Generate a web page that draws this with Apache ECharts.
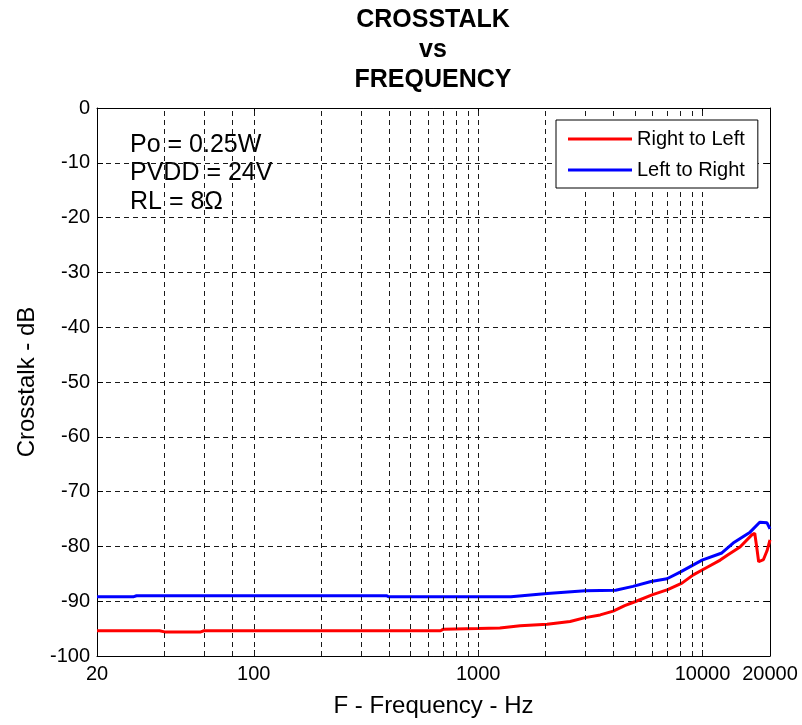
<!DOCTYPE html>
<html>
<head>
<meta charset="utf-8">
<script src="https://cdn.jsdelivr.net/npm/echarts@6/dist/echarts.min.js"></script>
<style>
  html, body { margin: 0; padding: 0; background: #fff; }
  #chart { width: 802px; height: 725px; }
</style>
</head>
<body>
<div id="chart"></div>
<script>
// Crosstalk measurements, [frequency Hz, dB]
const rightToLeft = [
  [20, -95.4], [38, -95.4], [40, -95.6], [58, -95.6], [60, -95.4], [680, -95.4],
  [700, -95.1], [1000, -95.0], [1250, -94.9], [1540, -94.5], [2030, -94.2],
  [2570, -93.7], [3000, -93.0], [3500, -92.5], [4000, -91.8], [4500, -90.8],
  [5000, -90.1], [6000, -88.8], [7000, -87.9], [8100, -86.7], [9100, -85.2],
  [10500, -83.8], [12000, -82.5], [12900, -81.6], [14700, -80.1], [16600, -77.9],
  [17100, -77.6], [17500, -80.5], [17800, -82.8], [18700, -82.4], [19400, -80.8],
  [20000, -78.8]
];
const leftToRight = [
  [20, -89.2], [29, -89.2], [30, -89.0], [390, -89.0], [400, -89.2], [1400, -89.2],
  [1420, -89.0], [2030, -88.6], [3000, -88.1], [4100, -88.0], [4900, -87.3],
  [5900, -86.4], [6950, -85.9], [7950, -84.7], [9960, -82.5], [12200, -81.2],
  [13700, -79.4], [16300, -77.4], [18000, -75.6], [19400, -75.7], [20000, -76.8]
];
const seriesNames = ['Right to Left', 'Left to Right'];
// vertical dashed grid positions (Hz)
const freqGrid = [40, 60, 80, 100, 200, 300, 400, 500, 600, 700, 800, 900, 1000,
  2000, 3000, 4000, 5000, 6000, 7000, 8000, 9000, 10000];
const conditions = ['Po = 0.25W', 'PVDD = 24V', 'RL = 8\u03A9'];

const FONT = '"Liberation Sans", Arial, Helvetica, sans-serif';
const gridDash = { color: '#1a1a1a', width: 1, type: [5, 4] };

const chart = echarts.init(document.getElementById('chart'), null, { renderer: 'canvas' });

const option = {
  animation: false,
  backgroundColor: '#fff',
  textStyle: { fontFamily: FONT },
  title: {
    text: 'CROSSTALK\nvs\nFREQUENCY',
    left: 433, top: 5, textAlign: 'center', padding: 0,
    textStyle: { fontFamily: FONT, fontSize: 25, fontWeight: 'bold', color: '#000', lineHeight: 30 }
  },
  grid: { left: 97, right: 32, top: 108, bottom: 69, containLabel: false },
  legend: {
    data: seriesNames,
    orient: 'vertical',
    left: 556, top: 120,
    padding: [8, 13, 7, 12],
    itemGap: 9,
    itemWidth: 64, itemHeight: 3, itemTextGap: 7,
    icon: 'rect',
    backgroundColor: '#fff',
    borderColor: '#000', borderWidth: 1, borderRadius: 0,
    textStyle: { fontFamily: FONT, fontSize: 20, color: '#000', lineHeight: 22 },
    z: 20
  },
  xAxis: [{
    type: 'log', logBase: 10, min: 20, max: 20000,
    name: 'F - Frequency - Hz', nameLocation: 'middle', nameGap: 38,
    nameTextStyle: { fontFamily: FONT, fontSize: 24, color: '#000' },
    axisLine: { onZero: false, lineStyle: { color: '#000', width: 1 } },
    axisTick: { inside: true, length: 6, lineStyle: { color: '#000' } },
    axisLabel: { fontFamily: FONT, fontSize: 20, color: '#000', margin: 8, hideOverlap: false,
      showMinLabel: true, showMaxLabel: true, formatter: v => String(Math.round(v)) },
    splitLine: { show: false }
  }, {
    type: 'log', logBase: 10, min: 20, max: 20000, position: 'top',
    axisLine: { onZero: false, lineStyle: { color: '#000', width: 1 } },
    axisTick: { inside: true, length: 6, lineStyle: { color: '#000' } },
    axisLabel: { show: false },
    splitLine: { show: false }
  }],
  yAxis: [{
    type: 'value', min: -100, max: 0, interval: 10,
    name: 'Crosstalk - dB', nameLocation: 'middle', nameGap: 58, nameRotate: 90,
    nameTextStyle: { fontFamily: FONT, fontSize: 24, color: '#000' },
    axisLine: { show: true, onZero: false, lineStyle: { color: '#000', width: 1 } },
    axisTick: { show: true, inside: true, length: 6, lineStyle: { color: '#000' } },
    axisLabel: { fontFamily: FONT, fontSize: 20, color: '#000', margin: 7 },
    splitLine: { show: true, lineStyle: gridDash }
  }, {
    type: 'value', min: -100, max: 0, interval: 10, position: 'right',
    axisLine: { show: true, onZero: false, lineStyle: { color: '#000', width: 1 } },
    axisTick: { show: true, inside: true, length: 6, lineStyle: { color: '#000' } },
    axisLabel: { show: false },
    splitLine: { show: false }
  }],
  series: [
    {
      name: 'freq-grid', type: 'line', data: [], z: 1, silent: true,
      markLine: {
        silent: true, symbol: ['none', 'none'], animation: false,
        label: { show: false },
        lineStyle: gridDash,
        emphasis: { disabled: true },
        data: freqGrid.map(f => ({ xAxis: f }))
      }
    },
    {
      name: seriesNames[0], type: 'line', data: rightToLeft, z: 3,
      showSymbol: false, symbol: 'none', color: '#ff0000',
      lineStyle: { color: '#ff0000', width: 3 }
    },
    {
      name: seriesNames[1], type: 'line', data: leftToRight, z: 3,
      showSymbol: false, symbol: 'none', color: '#0000ff',
      lineStyle: { color: '#0000ff', width: 3 }
    }
  ],
  graphic: [{
    type: 'group', left: 120, top: 124, z: 10,
    children: [
      { type: 'rect', shape: { x: 0, y: 0, width: 162, height: 94 }, style: { fill: '#fff' } },
      ...conditions.map((t, i) => ({
        type: 'text', x: 10, y: 21 + i * 28.5,
        style: { text: t, fontFamily: FONT, fontSize: 25, fill: '#000', verticalAlign: 'middle' }
      }))
    ]
  }]
};

chart.setOption(option);
</script>
</body>
</html>
